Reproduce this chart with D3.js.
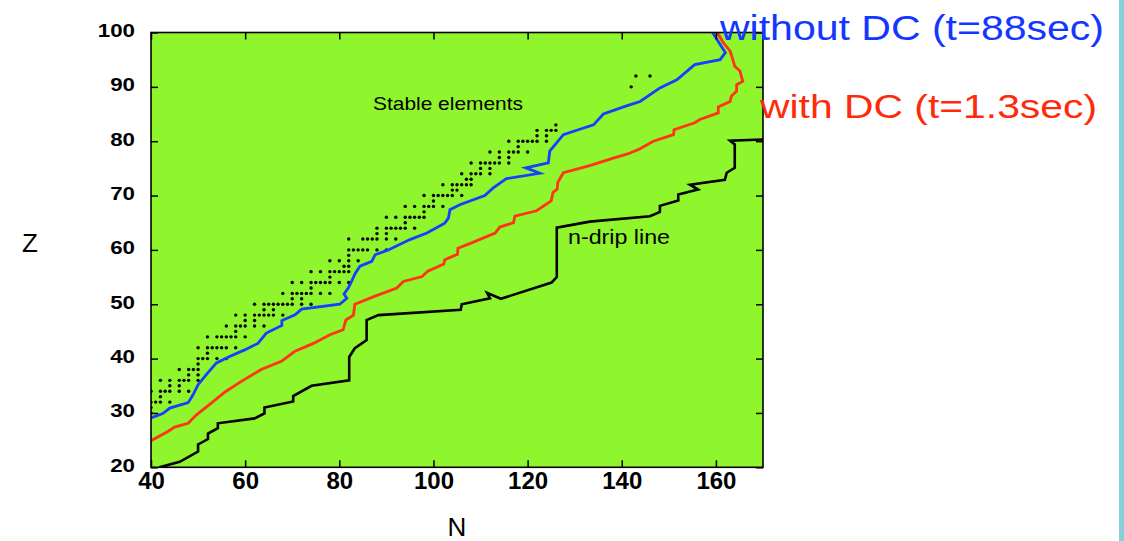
<!DOCTYPE html>
<html>
<head>
<meta charset="utf-8">
<script src="https://cdn.jsdelivr.net/npm/d3@7"></script>
<style>
  body { margin: 0; background: #fff; }
  svg { display: block; font-family: "Liberation Sans", Arial, Helvetica, sans-serif; }
</style>
</head>
<body>
<svg id="chart" width="1124" height="541"></svg>
<script>
// tick values
const nTicks = [40, 60, 80, 100, 120, 140, 160];
const zTicks = [20, 30, 40, 50, 60, 70, 80, 90, 100];

// stable nuclei: for each Z the stable neutron numbers (N >= 40)
const stableZ = [30, 31, 32, 33, 34, 35, 36, 37, 38, 39, 40, 41, 42, 44, 45, 46, 47, 48, 49, 50,
  51, 52, 53, 54, 55, 56, 57, 58, 59, 60, 62, 63, 64, 65, 66, 67, 68, 69, 70, 71, 72, 73, 74, 75,
  76, 77, 78, 79, 80, 81, 82, 83, 90, 92];
const stableN = [
  [40], [40], [40, 41, 42, 44], [42], [40, 42, 43, 44, 46, 48], [44, 46],
  [42, 44, 46, 47, 48, 50], [48, 50], [46, 48, 49, 50], [50], [50, 51, 52, 54, 56], [52],
  [50, 52, 53, 54, 55, 56, 58], [52, 54, 55, 56, 57, 58, 60], [58], [56, 58, 59, 60, 62, 64],
  [60, 62], [58, 60, 62, 63, 64, 65, 66, 68], [64, 66], [62, 64, 65, 66, 67, 68, 69, 70, 72, 74],
  [70, 72], [68, 70, 71, 72, 73, 74, 76, 78], [74], [70, 72, 74, 75, 76, 77, 78, 80, 82], [78],
  [74, 76, 78, 79, 80, 81, 82], [81, 82], [78, 80, 82, 84], [82], [82, 83, 84, 85, 86, 88, 90],
  [82, 85, 86, 87, 88, 90, 92], [88, 90], [88, 90, 91, 92, 93, 94, 96], [94],
  [90, 92, 94, 95, 96, 97, 98], [98], [94, 96, 98, 99, 100, 102], [100],
  [98, 100, 101, 102, 103, 104, 106], [104, 105], [102, 104, 105, 106, 107, 108], [107, 108],
  [106, 108, 109, 110, 112], [110, 112], [108, 110, 111, 112, 113, 114, 116], [114, 116],
  [112, 114, 116, 117, 118, 120], [118], [116, 118, 119, 120, 121, 122, 124], [122, 124],
  [122, 124, 125, 126], [126], [142], [143, 146]
];

// drip lines, [N, Z]
const withoutDC = [[40, 29.1], [42.5, 29.9], [44, 30.9], [47.9, 31.9], [48.9, 33.3], [50, 35.2],
  [51.7, 37], [53.9, 39.2], [56.7, 40.4], [59.9, 41.6], [62.7, 42.8], [64.5, 44.7], [67.8, 46.1],
  [67.8, 47], [70.6, 48.05], [72, 49.1], [80.1, 50], [81.6, 51.1], [81, 51.9], [81.9, 53],
  [82.6, 54.2], [83.4, 55.7], [84.4, 57], [86.9, 57.9], [87.6, 59.1], [90.4, 60], [95, 61.9],
  [98.6, 63.1], [102.4, 64.9], [103.2, 65.9], [103.5, 67.4], [105.6, 68.3], [110.9, 70],
  [112.7, 71.4], [115.5, 73.1], [122.6, 74.1], [119.6, 75.1], [124.4, 76], [124.7, 78.2],
  [127.6, 81.2], [131.1, 82.2], [134, 83], [136.1, 85], [141, 86.5], [143.9, 87.3],
  [148.1, 89.8], [151.7, 91.3], [155.5, 94.1], [160.9, 95], [162, 96.3], [160.9, 97.8],
  [159, 100.4]];
const withDC = [[40, 24.9], [43.6, 26.6], [45, 27.4], [47.9, 28.1], [49.6, 29.6], [52.8, 31.8],
  [55.8, 33.9], [59.2, 35.8], [63.4, 38], [67.7, 39.5], [70.5, 41.3], [74.5, 42.8], [78, 44.4],
  [80.8, 45.3], [81.4, 47.1], [83, 48], [83.3, 50], [87.6, 51.5], [92.2, 53], [93.6, 54.2],
  [97.6, 55.1], [98.8, 56.1], [102.2, 57.4], [102.4, 58.2], [105.1, 59.2], [105.2, 60.3],
  [108.1, 61.3], [113.1, 63.1], [114.1, 64.2], [117, 65], [117.3, 66.2], [121.9, 67.2],
  [125, 69], [125.4, 70.6], [126.3, 71.2], [126.4, 72.4], [127.6, 74.2], [133.2, 75.5],
  [138.2, 76.9], [141.4, 77.7], [143.9, 78.6], [146.7, 80], [151, 81.2], [151.1, 82.1],
  [155.5, 83.4], [156.6, 84], [160.5, 85.2], [160.5, 86.3], [163, 87.3], [163.3, 88.3],
  [164.4, 89.2], [164.4, 90.4], [165.7, 91], [165.1, 92.9], [164, 93.8], [163.5, 95.3],
  [163, 96.6], [161.6, 98.1], [160.4, 99.8], [160.2, 100.3]];
const nDrip = [[41.8, 20], [46.1, 21], [50, 22.9], [50, 24.2], [52.1, 25.2], [52.1, 26.2],
  [54.2, 27.2], [54.2, 28.1], [62, 29], [64.1, 29.9], [64.1, 31], [70.2, 32.1], [70.2, 33.1],
  [74.1, 35], [82.1, 36], [82.1, 40.3], [83.3, 41.9], [85.8, 43.4], [85.8, 47.1], [88.3, 48],
  [105.8, 49], [106, 50], [112, 51.1], [111.4, 52.1], [114.3, 51], [125.1, 54], [126.2, 55],
  [126.2, 64.1], [133.2, 65.2], [146, 66.2], [148.1, 67], [148.1, 68.1], [152, 69.1],
  [152, 70.2], [156.2, 71.1], [154.5, 72], [161.9, 72.9], [162.3, 74.2], [164, 75.1],
  [164, 79.4], [163, 80.1], [170, 80.3]];

const svg = d3.select('#chart');

const plotLeft = 151, plotRight = 763, plotTop = 32.5, plotBottom = 467.3;
const x = d3.scaleLinear().domain([40, 170]).range([plotLeft, plotRight]);
const y = d3.scaleLinear().domain([20, 100]).range([plotBottom, plotTop]);

// cyan strip on the right edge
svg.append('rect').attr('x', 1119).attr('y', 0).attr('width', 5).attr('height', 541)
  .attr('fill', '#85cfd6');

// plot background
svg.append('rect').attr('x', plotLeft).attr('y', plotTop)
  .attr('width', plotRight - plotLeft).attr('height', plotBottom - plotTop)
  .attr('fill', '#8ff52d');

svg.append('clipPath').attr('id', 'plotclip').append('rect')
  .attr('x', plotLeft).attr('y', plotTop)
  .attr('width', plotRight - plotLeft).attr('height', plotBottom - plotTop);

const plot = svg.append('g').attr('clip-path', 'url(#plotclip)');

// stable elements
const dots = [];
stableZ.forEach((z, i) => stableN[i].forEach(n => dots.push([n, z])));
plot.selectAll('circle.stable').data(dots).enter().append('circle')
  .attr('class', 'stable')
  .attr('cx', d => x(d[0]))
  .attr('cy', d => y(d[1]))
  .attr('r', 1.7)
  .attr('fill', '#000');

const line = d3.line().x(d => x(d[0])).y(d => y(d[1]));

plot.append('path').datum(nDrip).attr('d', line)
  .attr('fill', 'none').attr('stroke', '#000').attr('stroke-width', 2.6);
plot.append('path').datum(withDC).attr('d', line)
  .attr('fill', 'none').attr('stroke', '#ff3414').attr('stroke-width', 2.8);
plot.append('path').datum(withoutDC).attr('d', line)
  .attr('fill', 'none').attr('stroke', '#1440ff').attr('stroke-width', 2.8);

// axes with inward ticks
const tickLen = 7;
const xAxis = svg.append('g').attr('transform', 'translate(0,' + plotBottom + ')')
  .call(d3.axisBottom(x).tickValues(nTicks).tickSizeInner(-tickLen).tickSizeOuter(0).tickPadding(5));
const xTop = svg.append('g').attr('transform', 'translate(0,' + plotTop + ')')
  .call(d3.axisTop(x).tickValues(nTicks).tickSizeInner(-tickLen).tickSizeOuter(0).tickFormat(''));
const yAxis = svg.append('g').attr('transform', 'translate(' + plotLeft + ',0)')
  .call(d3.axisLeft(y).tickValues(zTicks).tickSizeInner(-tickLen).tickSizeOuter(0).tickPadding(16));
const yRight = svg.append('g').attr('transform', 'translate(' + plotRight + ',0)')
  .call(d3.axisRight(y).tickValues(zTicks).tickSizeInner(-tickLen).tickSizeOuter(0).tickFormat(''));

[xAxis, xTop, yAxis, yRight].forEach(a => {
  a.select('.domain').remove();
  a.selectAll('line').attr('stroke', '#000').attr('stroke-width', 1.5);
});
xAxis.selectAll('text').attr('fill', '#000').style('font-size', '24px').style('font-weight', 'bold');
yAxis.selectAll('text').attr('fill', '#000').style('font-size', '19px').style('font-weight', 'bold')
  .attr('dy', '0.2em')
  .attr('textLength', d => String(d).length * 12.4)
  .attr('lengthAdjust', 'spacingAndGlyphs');

// frame
svg.append('rect').attr('x', plotLeft).attr('y', plotTop)
  .attr('width', plotRight - plotLeft).attr('height', plotBottom - plotTop)
  .attr('fill', 'none').attr('stroke', '#000').attr('stroke-width', 1.6);

// axis titles
svg.append('text').attr('x', 30).attr('y', 252).attr('text-anchor', 'middle')
  .style('font-size', '26px').text('Z');
svg.append('text').attr('x', 457).attr('y', 536).attr('text-anchor', 'middle')
  .style('font-size', '26px').text('N');

// annotations
svg.append('text').attr('x', 373).attr('y', 110)
  .attr('textLength', 150).attr('lengthAdjust', 'spacingAndGlyphs')
  .style('font-size', '18.5px').text('Stable elements');
svg.append('text').attr('x', 568).attr('y', 244)
  .attr('textLength', 102).attr('lengthAdjust', 'spacingAndGlyphs')
  .style('font-size', '19.5px').text('n-drip line');

// legend
svg.append('text').attr('x', 720).attr('y', 40)
  .attr('textLength', 384).attr('lengthAdjust', 'spacingAndGlyphs')
  .attr('fill', '#1437ff').style('font-size', '35px').text('without DC (t=88sec)');
svg.append('text').attr('x', 760).attr('y', 118)
  .attr('textLength', 337).attr('lengthAdjust', 'spacingAndGlyphs')
  .attr('fill', '#ff2a0a').style('font-size', '34px').text('with DC (t=1.3sec)');
</script>
</body>
</html>
